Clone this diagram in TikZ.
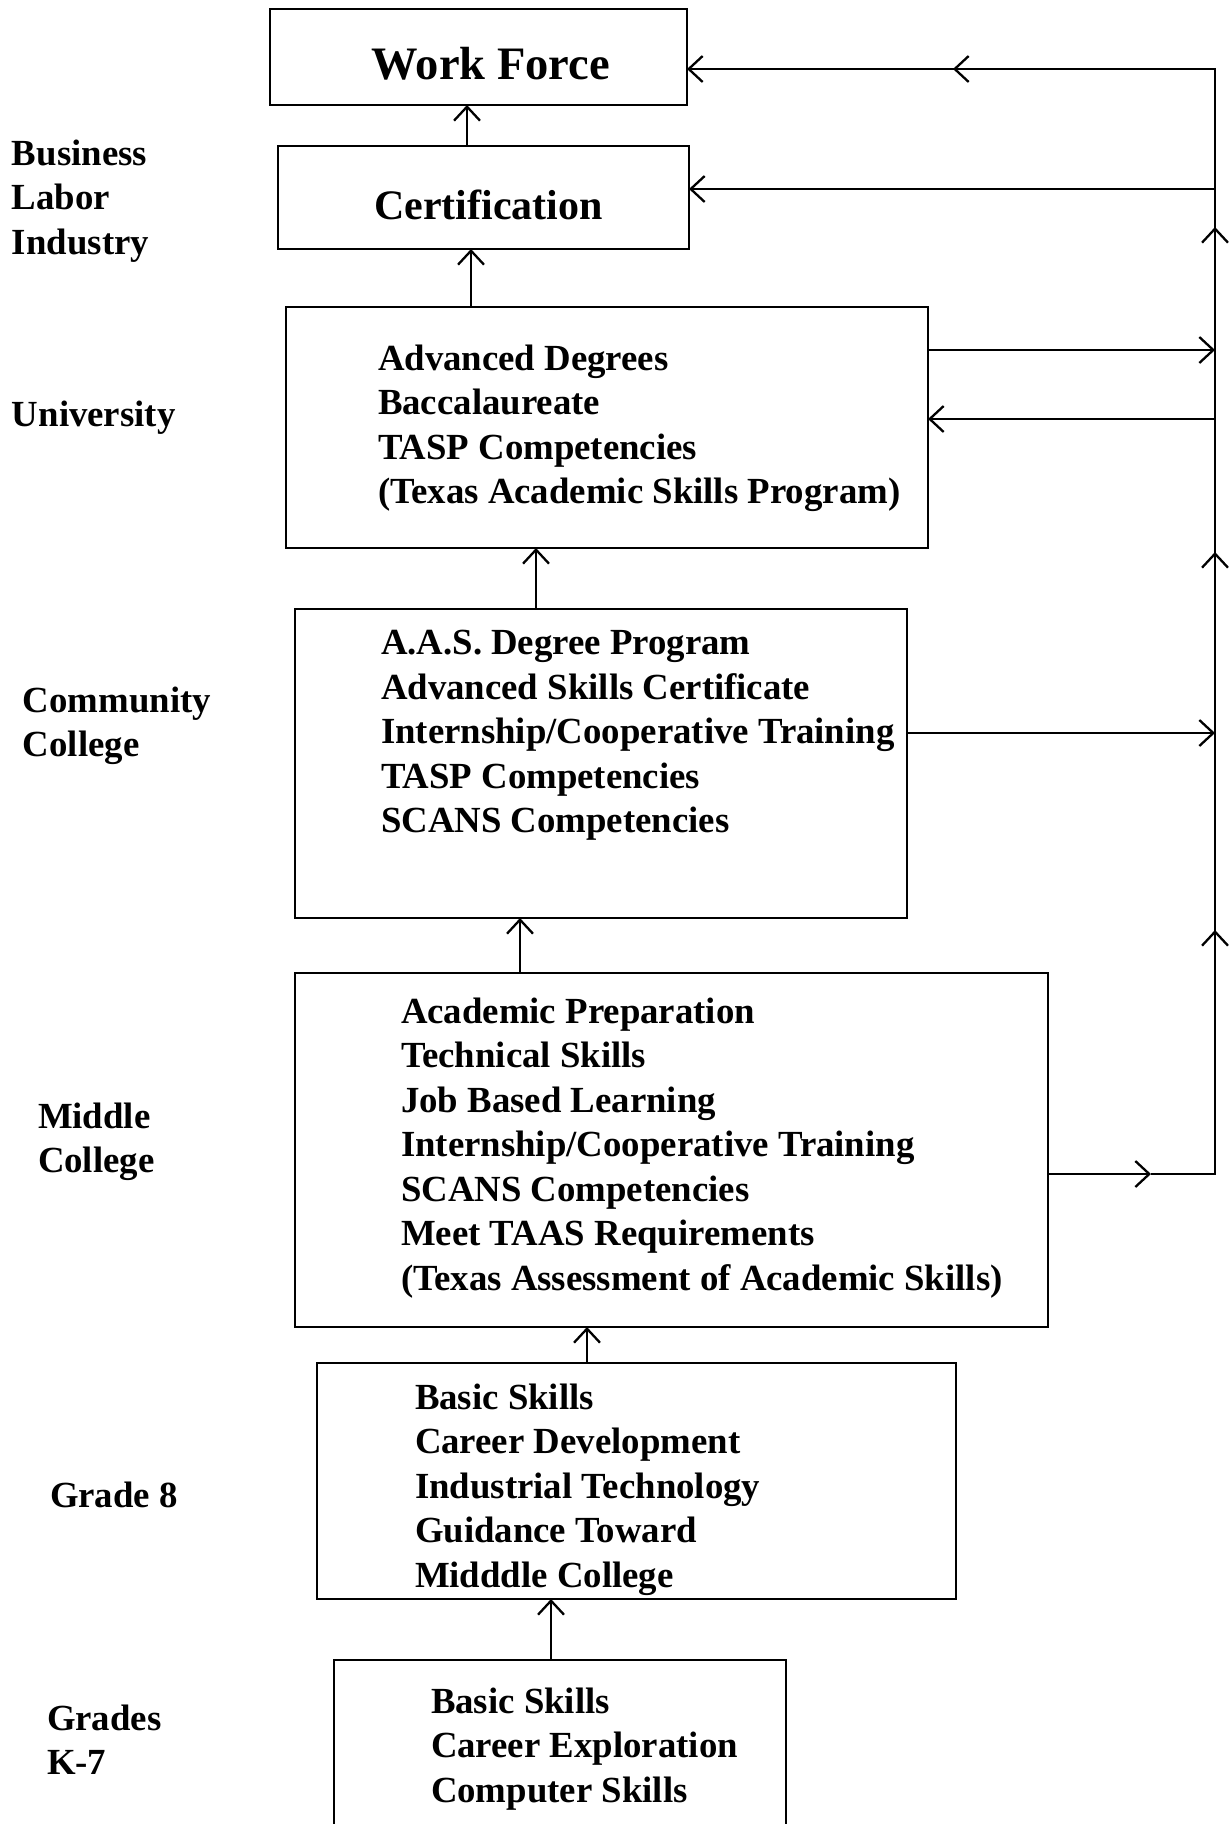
\documentclass[tikz,border=0pt]{standalone}
\usepackage{fontspec}
\setmainfont{Liberation Serif}
\usetikzlibrary{arrows.meta}
\begin{document}
\begin{tikzpicture}[x=1pt,y=-1pt,
  box/.style={draw, line width=2.8pt, rectangle, inner sep=0pt, outer sep=0pt},
  txt/.style={font=\fontsize{36.8}{44.5}\selectfont\bfseries, anchor=north west, inner sep=0pt, outer sep=0pt, align=left},
  conn/.style={line width=2.3pt},
  arr/.style={conn, -{Straight Barb[length=14pt,width=26pt]}},
]
\useasboundingbox (0,0) rectangle (1229,1824);
\fill[white] (0,0) rectangle (1229,1824);
\clip (0,0) rectangle (1229,1824);

% boxes
\node[box,minimum width=417pt,minimum height=96pt] (wf) at (478.5,57) {};
\node[box,minimum width=411pt,minimum height=103pt] (cert) at (483.5,197.5) {};
\node[box,minimum width=642pt,minimum height=241pt] (univ) at (607,427.5) {};
\node[box,minimum width=612pt,minimum height=309pt] (comm) at (601,763.5) {};
\node[box,minimum width=753pt,minimum height=354pt] (mid) at (671.5,1150) {};
\node[box,minimum width=639pt,minimum height=236pt] (g8) at (636.5,1481) {};
\node[box,minimum width=452pt,minimum height=200pt] (k7) at (560,1760) {};

% box titles
\node[font=\fontsize{46.5}{50}\selectfont\bfseries, inner sep=0pt] (wft) at (491,64) {Work Force};
\node[font=\fontsize{42}{46}\selectfont\bfseries, inner sep=0pt] (certt) at (488.5,205) {Certification};

% box contents
\node[txt] (univt) at (378,344.5) {Advanced Degrees\\Baccalaureate\\TASP Competencies\\(Texas Academic Skills Program)};
\node[txt] (commt) at (381,630.5) {A.A.S. Degree Program\\Advanced Skills Certificate\\Internship/Cooperative Training\\TASP Competencies\\SCANS Competencies};
\node[txt] (midt) at (401,997.5) {Academic Preparation\\Technical Skills\\Job Based Learning\\Internship/Cooperative Training\\SCANS Competencies\\Meet TAAS Requirements\\(Texas Assessment of Academic Skills)};
\node[txt] (g8t) at (415,1383.5) {Basic Skills\\Career Development\\Industrial Technology\\Guidance Toward\\Midddle College};
\node[txt] (k7t) at (431,1687.5) {Basic Skills\\Career Exploration\\Computer Skills};

% left labels
\node[txt] (lb1) at (12,139.5) {Business\\Labor\\Industry};
\node[txt] (lb2) at (12,400.5) {University};
\node[txt] (lb3) at (23,686.5) {Community\\College};
\node[txt] (lb4) at (38,1102.5) {Middle\\College};
\node[txt] (lb5) at (50,1481.5) {Grade 8};
\node[txt] (lb6) at (47,1704.5) {Grades\\K-7};

% vertical connectors between boxes
\coordinate (x1) at (467,0);
\coordinate (x2) at (471,0);
\coordinate (x3) at (536,0);
\coordinate (x4) at (520,0);
\coordinate (x5) at (587,0);
\coordinate (x6) at (551,0);
\draw[arr] (cert.north -| x1) -- (wf.south -| x1);
\draw[arr] (univ.north -| x2) -- (cert.south -| x2);
\draw[arr] (comm.north -| x3) -- (univ.south -| x3);
\draw[arr] (mid.north -| x4) -- (comm.south -| x4);
\draw[arr] (g8.north -| x5) -- (mid.south -| x5);
\draw[arr] (k7.north -| x6) -- (g8.south -| x6);

% right-hand bus
\coordinate (bt) at (1215,69);
\coordinate (bb) at (1215,1174);
\coordinate (m1) at (1151,1174);
\coordinate (m2) at (953,69);
\coordinate (u1) at (1215,930);
\coordinate (u2) at (1215,552);
\coordinate (u3) at (1215,227);
\coordinate (yc) at (1215,189);
\coordinate (yu1) at (1215,350);
\coordinate (yu2) at (1215,419);
\coordinate (yc1) at (1215,733);

\draw[arr] (mid.east |- bb) -- (m1);
\draw[conn] (m1) -- (bb) -- (bt) -- (m2);
\draw[arr] (bb) -- (u1);
\draw[arr] (u1) -- (u2);
\draw[arr] (u2) -- (u3);
\draw[arr] (bt) -- (m2);
\draw[arr] (m2) -- (wf.east |- bt);
\draw[arr] (yc) -- (cert.east |- yc);
\draw[arr] (univ.east |- yu1) -- (yu1);
\draw[arr] (yu2) -- (univ.east |- yu2);
\draw[arr] (comm.east |- yc1) -- (yc1);
\end{tikzpicture}
\end{document}
